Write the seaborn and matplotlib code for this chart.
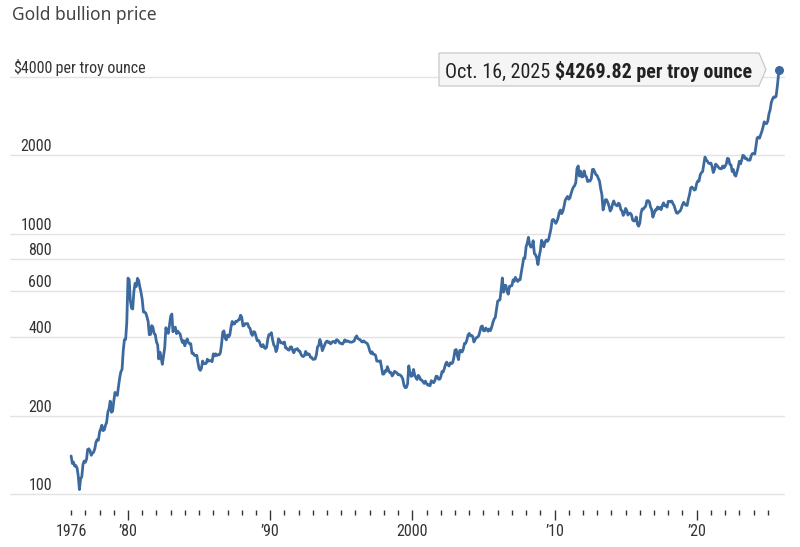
import numpy as np
import pandas as pd
import matplotlib
matplotlib.use("Agg")
import matplotlib.pyplot as plt
import matplotlib.transforms as mtransforms
from matplotlib import font_manager as fm
from matplotlib.patches import Polygon
import seaborn as sns

# ---------------- data (monthly gold price, USD per troy ounce) ----------------
start_month = "1976-01-01"
prices_1970s = [
    140, 131, 132.6, 128, 128.6, 125.9, 117.7, 104, 114.5, 116.4, 130, 133.9,
    132.3, 136.3, 148.2, 149.2, 146.6, 140.8, 143.4, 144.9, 149.4, 158.1, 161.9, 160.9,
    173.1, 178.2, 183.7, 175.1, 176.3, 183.4, 188.4, 206.1, 212.5, 227.4, 206.1, 207.8,
    227.3, 245.7, 242.1, 239.2, 257.6, 279.1, 294.8, 300.8, 355.2, 391.7, 392.5, 455.1,
]
prices_1980s = [
    675.3, 665.3, 553.6, 517.4, 513.8, 600.7, 644.3, 626.5, 673.6, 661.1, 623.5, 594.9,
    557.4, 500.1, 499.8, 495.8, 479.7, 460.8, 409.3, 410.1, 443.7, 437.8, 413.4, 410.1,
    384.1, 374.2, 330.2, 350.5, 333.9, 314.9, 339.1, 364.4, 435.2, 422.2, 414.1, 444.3,
    481.5, 491.4, 419.8, 432.9, 437.5, 413.1, 422.5, 416.2, 411.9, 393.4, 381.7, 388.4,
    370.9, 386.0, 394.3, 381.6, 377.6, 377.9, 347.3, 347.8, 341.1, 340.2, 341.2, 320.2,
    303.0, 298.5, 303.8, 324.3, 316.5, 316.8, 317.3, 329.6, 323.6, 325.3, 325.4, 322.2,
    345.4, 338.9, 345.7, 340.4, 342.5, 342.7, 348.5, 376.6, 418.6, 423.3, 397.3, 390.9,
    408.3, 401.2, 408.7, 438.6, 460.0, 449.5, 450.4, 460.9, 460.0, 465.5, 467.4, 486.3,
    477.8, 442.2, 443.6, 451.5, 451.0, 451.6, 437.4, 433.3, 412.9, 406.6, 420.5, 418.6,
    404.0, 387.8, 390.2, 384.2, 371.1, 367.6, 374.9, 365.4, 362.0, 366.7, 394.3, 409.8,
]
prices_1990s = [
    410.1, 416.8, 393.1, 374.3, 369.1, 352.3, 362.5, 394.7, 389.1, 380.8, 381.2, 378.1,
    383.6, 363.8, 363.3, 358.4, 356.8, 366.7, 367.7, 356.4, 348.7, 358.6, 360.0, 361.8,
    354.5, 353.9, 344.3, 338.6, 337.4, 340.8, 353.0, 343.0, 345.4, 344.4, 335.1, 334.8,
    329.0, 329.4, 330.1, 342.2, 367.2, 371.6, 392.3, 378.5, 355.3, 364.2, 373.8, 383.4,
    387.0, 382.0, 384.0, 377.3, 381.4, 385.6, 385.1, 380.6, 391.6, 389.8, 384.4, 379.3,
    378.6, 376.5, 382.1, 391.0, 385.3, 387.6, 386.2, 383.7, 383.1, 383.1, 385.5, 387.4,
    399.5, 404.8, 396.2, 392.9, 391.9, 385.3, 383.5, 387.5, 383.1, 381.1, 377.9, 369.0,
    355.0, 346.6, 351.8, 344.5, 343.8, 340.8, 324.1, 324.0, 322.8, 324.9, 306.0, 288.6,
    289.1, 297.5, 295.9, 308.4, 299.1, 292.3, 292.9, 284.1, 289.0, 295.9, 294.1, 291.6,
    287.1, 287.3, 286.0, 282.6, 276.4, 261.3, 256.1, 256.7, 265.0, 310.7, 293.2, 283.1,
]
prices_2000s = [
    284.6, 300.9, 286.4, 280.0, 275.3, 285.7, 281.6, 274.5, 273.7, 270.0, 266.0, 271.5,
    265.5, 261.9, 263.0, 260.5, 272.4, 270.2, 267.5, 272.4, 283.4, 283.1, 276.2, 275.9,
    281.6, 295.5, 294.0, 302.7, 314.5, 321.2, 313.3, 310.3, 319.2, 316.6, 319.2, 333.4,
    356.9, 359.0, 340.6, 328.2, 355.7, 356.4, 351.0, 359.8, 378.9, 378.9, 389.9, 407.6,
    414.0, 405.3, 406.7, 403.0, 383.8, 392.4, 398.1, 400.5, 405.3, 420.5, 439.4, 442.1,
    424.0, 423.4, 434.2, 428.9, 421.9, 430.7, 424.5, 437.9, 456.0, 469.9, 476.7, 509.8,
    549.9, 555.0, 557.1, 610.7, 676.0, 596.2, 633.7, 632.6, 598.2, 585.8, 627.8, 629.8,
    631.2, 664.8, 654.9, 679.4, 666.9, 655.5, 665.3, 665.4, 712.7, 754.6, 806.3, 803.2,
    889.6, 922.3, 968.4, 909.7, 888.7, 889.5, 939.8, 839.0, 829.9, 806.6, 760.9, 816.1,
    858.7, 943.2, 924.3, 890.2, 928.6, 945.7, 934.2, 949.4, 996.6, 1043.2, 1127.0, 1134.7,
]
prices_2010s = [
    1117.9, 1095.4, 1113.3, 1148.7, 1205.4, 1232.9, 1193.0, 1215.8, 1270.9, 1342.0, 1369.9, 1390.6,
    1356.4, 1372.7, 1424.0, 1473.8, 1510.4, 1528.7, 1572.8, 1780.0, 1820.0, 1665.2, 1738.9, 1652.3,
    1656.1, 1742.6, 1673.8, 1650.1, 1585.5, 1596.7, 1593.9, 1626.0, 1764.5, 1766.6, 1721.6, 1684.8,
    1671.9, 1627.6, 1593.1, 1487.9, 1414.0, 1234.0, 1285.5, 1351.7, 1348.6, 1316.6, 1275.8, 1221.5,
    1244.3, 1300.0, 1336.1, 1299.0, 1287.5, 1279.1, 1310.6, 1295.1, 1236.6, 1222.5, 1175.3, 1200.6,
    1250.8, 1227.1, 1178.6, 1198.9, 1198.6, 1181.5, 1128.3, 1117.9, 1124.8, 1159.3, 1086.4, 1068.3,
    1097.9, 1199.5, 1245.1, 1242.3, 1260.9, 1276.4, 1337.3, 1340.2, 1326.6, 1266.6, 1238.4, 1157.4,
    1192.1, 1234.2, 1231.4, 1266.9, 1246.0, 1260.3, 1236.8, 1283.0, 1314.1, 1279.5, 1281.9, 1264.5,
    1331.3, 1330.7, 1324.7, 1334.8, 1303.5, 1281.6, 1237.7, 1201.7, 1198.4, 1215.4, 1220.7, 1250.4,
    1291.8, 1320.1, 1300.9, 1285.9, 1283.7, 1359.0, 1413.0, 1500.4, 1510.6, 1494.8, 1470.0, 1479.1,
]
prices_2020s = [
    1560.7, 1597.1, 1591.9, 1683.2, 1715.9, 1732.2, 1846.5, 1968.6, 1921.9, 1900.3, 1866.3, 1858.4,
    1867.6, 1808.2, 1718.2, 1760.0, 1850.3, 1834.6, 1807.8, 1785.3, 1775.1, 1776.6, 1821.0, 1790.5,
    1816.0, 1856.3, 1947.8, 1937.4, 1848.5, 1836.6, 1732.7, 1764.6, 1680.9, 1664.5, 1725.1, 1797.5,
    1898.4, 1854.0, 1912.7, 1999.8, 1991.8, 1942.9, 1951.0, 1918.7, 1916.8, 1917.0, 1992.9, 2030.4,
    2033.9, 2022.7, 2158.6, 2331.3, 2351.6, 2326.5, 2398.0, 2470.3, 2570.5, 2689.9, 2650.4, 2648.0,
    2709.0, 2894.0, 2984.0, 3193.0, 3288.0, 3352.0, 3340.0, 3366.0, 3665.0,
]
last_date = "2025-10-16"
last_price = 4269.82

y_ticks = [100, 200, 400, 600, 800, 1000, 2000, 4000]
y_tick_labels = ["100", "200", "400", "600", "800", "1000", "2000", "$4000"]
y_unit_suffix = " per troy ounce"
x_label_years = [1976, 1980, 1990, 2000, 2010, 2020]
x_tick_labels = ["1976", "\u201980", "\u201990", "2000", "\u201910", "\u201920"]
minor_years = list(range(1976, 2026))
title_text = "Gold bullion price"
callout_date = "Oct. 16, 2025 "
callout_value = "$4269.82 per troy ounce"

# ---------------- build table ----------------
monthly = prices_1970s + prices_1980s + prices_1990s + prices_2000s + prices_2010s + prices_2020s
dates = list(pd.date_range(start_month, periods=len(monthly), freq="MS")) + [pd.Timestamp(last_date)]
df = pd.DataFrame({"date": dates, "price": monthly + [last_price]})

# ---------------- style ----------------
sns.set_theme(style="white")


def pick(names):
    for n in names:
        try:
            fm.findfont(fm.FontProperties(family=n), fallback_to_default=False)
            return n
        except Exception:
            pass
    return "DejaVu Sans"


narrow = pick(["Liberation Sans Narrow", "Roboto Condensed", "Open Sans Condensed", "Noto Sans"])
regular = pick(["Noto Sans", "Open Sans", "DejaVu Sans"])
fs = 1.0 if "Narrow" in narrow or "Condensed" in narrow else 0.85
plt.rcParams["font.family"] = [narrow, "DejaVu Sans"]

LINE = "#3d6a9e"
GRID = "#e3e3e3"
TXT = "#333333"

W, H = 800, 547
fig = plt.figure(figsize=(W / 100, H / 100), dpi=100)


def fx(px):
    return px / W


def fy(py):
    return 1 - py / H


ax_left, ax_right, ax_top, ax_bottom = 10, 785, 55, 510
ax = fig.add_axes([fx(ax_left), fy(ax_bottom), fx(ax_right - ax_left), (ax_bottom - ax_top) / H])


def yr(v):
    y0 = int(np.floor(v))
    return pd.Timestamp(y0, 1, 1) + pd.Timedelta(days=(v - y0) * 365.25)


sns.lineplot(data=df, x="date", y="price", ax=ax, color=LINE, linewidth=2.0, legend=False)
ax.plot([df["date"].iloc[-1]], [df["price"].iloc[-1]], marker="o", ms=5.5, color=LINE, zorder=5)

ax.set_yscale("log")
ax.set_ylim(86.8, 4858)
ax.set_xlim(yr(1971.7), yr(2026.21))
ax.set_xlabel("")
ax.set_ylabel("")

for s in ax.spines.values():
    s.set_visible(False)

# y grid + labels
ax.set_yticks(y_ticks)
ax.yaxis.set_minor_locator(matplotlib.ticker.NullLocator())
ax.set_yticklabels([])
ax.tick_params(axis="y", length=0)
for v in y_ticks:
    ax.axhline(v, color=GRID, lw=1.0, zorder=0)

trans = mtransforms.blended_transform_factory(fig.transFigure, ax.transData)
trans = mtransforms.offset_copy(trans, fig=fig, y=4, units="dots")
for v, lab in zip(y_ticks, y_tick_labels):
    t = ax.text(fx(52), v, lab, transform=trans, ha="right", va="baseline",
                fontsize=11.5 * fs, color=TXT, family=[narrow, "DejaVu Sans"], clip_on=False)
fig.canvas.draw()
r = fig.canvas.get_renderer()
bb = t.get_window_extent(r)
ax.text(fx(bb.x1), 4000, y_unit_suffix, transform=trans, ha="left", va="baseline",
        fontsize=11.5 * fs, color=TXT, family=[narrow, "DejaVu Sans"], clip_on=False)

# x ticks
ax.set_xticks([pd.Timestamp(y, 1, 1) for y in x_label_years])
ax.set_xticklabels(x_tick_labels)
ax.set_xticks([pd.Timestamp(y, 1, 1) for y in minor_years], minor=True)
ax.tick_params(axis="x", which="major", direction="out", length=7, width=1, color=TXT,
               pad=3, labelsize=11.5 * fs, labelcolor=TXT, bottom=True)
ax.tick_params(axis="x", which="minor", direction="out", length=3.5, width=1, color=TXT, bottom=True)
ax.xaxis.get_major_ticks()[0].tick1line.set_markersize(3.5)

# title
fig.text(fx(12), fy(15), title_text, ha="left", va="center", fontsize=12.5,
         color="#444444", family=[regular, "DejaVu Sans"])

# callout box
bx0, bx1, by0, by1, tipx = 439, 759, 53, 86, 766
poly = Polygon([(fx(bx0), fy(by0)), (fx(bx1), fy(by0)), (fx(tipx), fy((by0 + by1) / 2)),
                (fx(bx1), fy(by1)), (fx(bx0), fy(by1))], closed=True,
               transform=fig.transFigure, facecolor="#f5f5f5", edgecolor="#c9c9c9", lw=0.9, zorder=10)
fig.patches.append(poly)

cs = 14.4 * fs
t1 = fig.text(fx(445), fy(70), callout_date, ha="left", va="center_baseline", fontsize=cs,
              color="#222222", family=[narrow, "DejaVu Sans"], zorder=11)
fig.canvas.draw()
b1 = t1.get_window_extent(fig.canvas.get_renderer())
fig.text(fx(b1.x1), fy(70), callout_value, ha="left", va="center_baseline", fontsize=cs,
         color="#222222", fontweight="bold", family=[narrow, "DejaVu Sans"], zorder=11)

fig.savefig("out.png", dpi=100, facecolor="white")
